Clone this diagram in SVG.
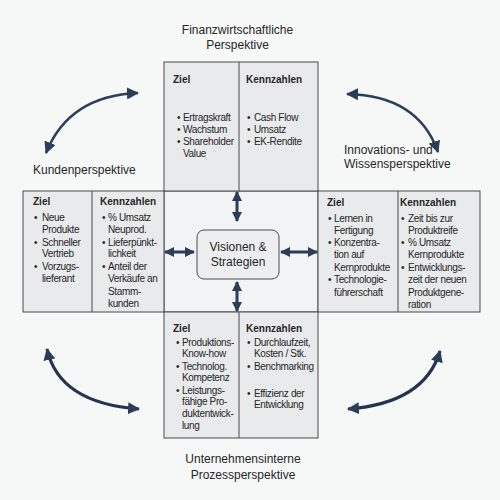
<svg xmlns="http://www.w3.org/2000/svg" width="500" height="500" viewBox="0 0 500 500">
<style>
.t{font-family:"Liberation Sans",Arial,sans-serif;fill:#262626}
.b{font-size:10px;letter-spacing:-0.35px}
.h{font-size:10px;font-weight:bold}
.l{font-size:12px}
.m{text-anchor:middle}
.box{fill:#e8eaeb;stroke:#4a4a4a;stroke-width:1}
.div{stroke:#4a4a4a;stroke-width:1}
.arc{fill:none;stroke:#2c3d58;stroke-width:2.5}
.arc2{fill:none;stroke:#24344d;stroke-width:3.2}
.ca{fill:none;stroke:#2c3d58;stroke-width:3}
</style>
<defs>
<marker id="ah" viewBox="0 0 12 12" refX="11" refY="6" markerWidth="12" markerHeight="12" markerUnits="userSpaceOnUse" orient="auto-start-reverse"><path d="M0,0 L12,6 L0,12 z" fill="#2c3d58"/></marker>
<marker id="as" viewBox="0 0 10 10" refX="9" refY="5" markerWidth="10" markerHeight="10" markerUnits="userSpaceOnUse" orient="auto-start-reverse"><path d="M0,0 L10,5 L0,10 z" fill="#2c3d58"/></marker>
</defs>
<rect x="0" y="0" width="500" height="500" fill="#f6f7f7"/>
<rect x="164" y="191" width="154" height="121" fill="#f2f3f4" stroke="#4a4a4a" stroke-width="1"/>

<g id="top">
<rect class="box" x="164" y="62" width="154" height="129"/>
<line class="div" x1="239" y1="62" x2="239" y2="191"/>
<text class="t h" x="173" y="83">Ziel</text>
<text class="t h" x="246" y="83">Kennzahlen</text>
<g class="t b">
<text x="177" y="121">•</text><text x="183" y="121">Ertragskraft</text>
<text x="177" y="133">•</text><text x="183" y="133">Wachstum</text>
<text x="177" y="145">•</text><text x="183" y="145">Shareholder</text>
<text x="183" y="157">Value</text>
<text x="247" y="121">•</text><text x="254" y="121">Cash Flow</text>
<text x="247" y="133">•</text><text x="254" y="133">Umsatz</text>
<text x="247" y="145">•</text><text x="254" y="145">EK-Rendite</text>
</g>
</g>

<g id="left">
<rect class="box" x="23" y="191" width="141" height="121"/>
<line class="div" x1="92" y1="191" x2="92" y2="312"/>
<text class="t h" x="33" y="205">Ziel</text>
<text class="t h" x="100" y="205">Kennzahlen</text>
<g class="t b">
<text x="34" y="221">•</text><text x="42" y="221">Neue</text>
<text x="42" y="232.5">Produkte</text>
<text x="34" y="245.5">•</text><text x="42" y="245.5">Schneller</text>
<text x="42" y="257">Vertrieb</text>
<text x="34" y="270">•</text><text x="42" y="270">Vorzugs-</text>
<text x="42" y="282">lieferant</text>
<text x="102" y="221">•</text><text x="108" y="221">% Umsatz</text>
<text x="108" y="232.5">Neuprod.</text>
<text x="102" y="245.5">•</text><text x="108" y="245.5">Lieferpünkt-</text>
<text x="108" y="257">lichkeit</text>
<text x="102" y="270">•</text><text x="108" y="270">Anteil der</text>
<text x="108" y="282">Verkäufe an</text>
<text x="108" y="294.5">Stamm-</text>
<text x="108" y="306.5">kunden</text>
</g>
</g>

<g id="right">
<rect class="box" x="318" y="191" width="162" height="121"/>
<line class="div" x1="398" y1="191" x2="398" y2="312"/>
<text class="t h" x="327" y="206">Ziel</text>
<text class="t h" x="400" y="206">Kennzahlen</text>
<g class="t b">
<text x="328" y="221.5">•</text><text x="334" y="221.5">Lernen in</text>
<text x="334" y="233.5">Fertigung</text>
<text x="328" y="246">•</text><text x="334" y="246">Konzentra-</text>
<text x="334" y="258">tion auf</text>
<text x="334" y="270.5">Kernprodukte</text>
<text x="328" y="283">•</text><text x="334" y="283">Technologie-</text>
<text x="334" y="295.5">führerschaft</text>
<text x="401" y="221.5">•</text><text x="408" y="221.5">Zeit bis  zur</text>
<text x="408" y="233.5">Produktreife</text>
<text x="401" y="246">•</text><text x="408" y="246">% Umsatz</text>
<text x="408" y="258">Kernprodukte</text>
<text x="401" y="270.5">•</text><text x="408" y="270.5">Entwicklungs-</text>
<text x="408" y="283">zeit der neuen</text>
<text x="408" y="295.5">Produktgene-</text>
<text x="408" y="308">ration</text>
</g>
</g>

<g id="bottom">
<rect class="box" x="164" y="312" width="154" height="126"/>
<line class="div" x1="239" y1="312" x2="239" y2="438"/>
<text class="t h" x="173" y="332">Ziel</text>
<text class="t h" x="246" y="332">Kennzahlen</text>
<g class="t b">
<text x="176" y="345.5">•</text><text x="182" y="345.5">Produktions-</text>
<text x="182" y="357">Know-how</text>
<text x="176" y="369.5">•</text><text x="182" y="369.5">Technolog.</text>
<text x="182" y="380.5">Kompetenz</text>
<text x="176" y="393.5">•</text><text x="182" y="393.5">Leistungs-</text>
<text x="182" y="405">fähige Pro-</text>
<text x="182" y="417">duktentwick-</text>
<text x="182" y="429">lung</text>
<text x="247" y="345.5">•</text><text x="254" y="345.5">Durchlaufzeit,</text>
<text x="254" y="357">Kosten / Stk.</text>
<text x="247" y="369.5">•</text><text x="254" y="369.5">Benchmarking</text>
<text x="247" y="397">•</text><text x="254" y="397">Effizienz der</text>
<text x="254" y="408">Entwicklung</text>
</g>
</g>

<g id="center">
<rect x="197" y="230" width="82" height="49" rx="7" fill="#eceeef" stroke="#4a4a4a" stroke-width="1"/>
<text class="t l m" x="238" y="251">Visionen &amp;</text>
<text class="t l m" x="238" y="266">Strategien</text>
</g>

<g id="labels">
<text class="t l m" x="237.5" y="34">Finanzwirtschaftliche</text>
<text class="t l m" x="237.5" y="49">Perspektive</text>
<text class="t l" x="33" y="174">Kundenperspektive</text>
<text class="t l" x="344" y="154">Innovations- und</text>
<text class="t l" x="344" y="168">Wissensperspektive</text>
<text class="t l m" x="243" y="463">Unternehmensinterne</text>
<text class="t l m" x="243" y="479">Prozessperspektive</text>
</g>

<g id="connectors">
<path class="arc" d="M46,153 C60,118 88,95 138,93" marker-start="url(#ah)" marker-end="url(#ah)"/>
<path class="arc" d="M347,94 C395,95 425,115 438,152" marker-start="url(#ah)" marker-end="url(#ah)"/>
<path class="arc2" d="M47,349 C55,385 85,405 139,409" marker-start="url(#ah)" marker-end="url(#ah)"/>
<path class="arc2" d="M440,351 C430,385 400,405 348,409" marker-start="url(#ah)" marker-end="url(#ah)"/>
<path class="ca" d="M237,192 L237,221" marker-start="url(#as)" marker-end="url(#as)"/>
<path class="ca" d="M237,282 L237,311" marker-start="url(#as)" marker-end="url(#as)"/>
<path class="ca" d="M165,252 L194,252" marker-start="url(#as)" marker-end="url(#as)"/>
<path class="ca" d="M281,252 L317,252" marker-start="url(#as)" marker-end="url(#as)"/>
</g>
</svg>
